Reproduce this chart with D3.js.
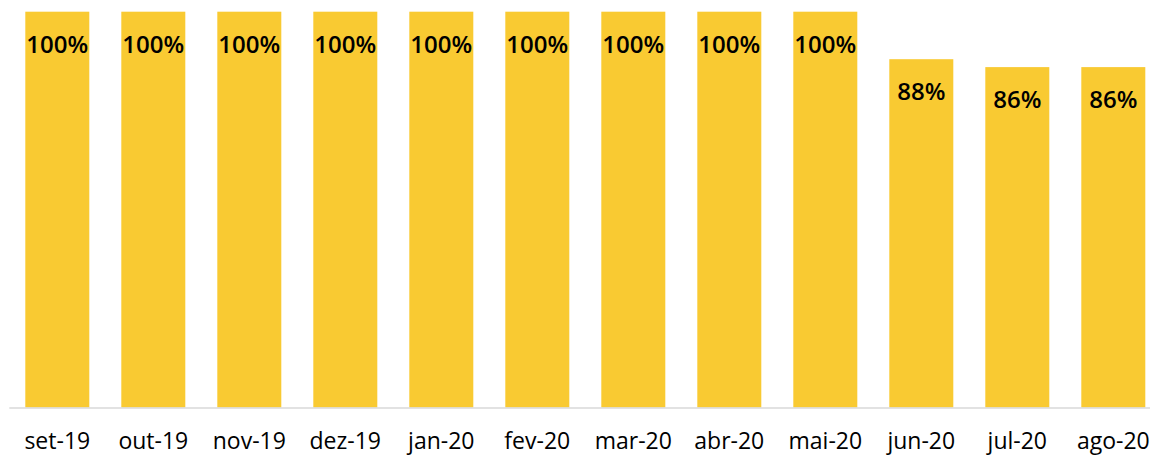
<!DOCTYPE html>
<html>
<head>
<meta charset="utf-8">
<script src="https://cdn.jsdelivr.net/npm/d3@7"></script>
<style>
  body { margin: 0; background: #fff; }
  svg { display: block; }
  .axis-label { font-family: "Open Sans", "Noto Sans", sans-serif; font-size: 23px; fill: #000; }
  .bar-label { font-family: "Open Sans", "Noto Sans", sans-serif; font-size: 24px; font-weight: 600; fill: #000; }
</style>
</head>
<body>
<div id="chart"></div>
<script>
// months on the x axis
var months = ["set-19", "out-19", "nov-19", "dez-19", "jan-20", "fev-20",
  "mar-20", "abr-20", "mai-20", "jun-20", "jul-20", "ago-20"];
// share per month, in percent
var shares = [100, 100, 100, 100, 100, 100, 100, 100, 100, 88, 86, 86];

var width = 1150, height = 455;
var baseY = 407.5, topY = 11.7;

var svg = d3.select("#chart").append("svg")
  .attr("width", width)
  .attr("height", height);

// band scale: step 96, bars 64 wide
var x = d3.scaleBand()
  .domain(months)
  .range([9.3, 9.3 + 96 * months.length])
  .paddingInner(1 / 3)
  .paddingOuter(1 / 6);

var y = d3.scaleLinear()
  .domain([0, 100])
  .range([baseY, topY]);

var data = months.map(function (m, i) { return { month: m, value: shares[i] }; });

// bars
svg.selectAll("rect.bar")
  .data(data)
  .enter()
  .append("rect")
  .attr("class", "bar")
  .attr("x", function (d) { return x(d.month); })
  .attr("y", function (d) { return y(d.value); })
  .attr("width", x.bandwidth())
  .attr("height", function (d) { return y(0) - y(d.value); })
  .attr("fill", "#F9CA32");

// baseline
svg.append("line")
  .attr("x1", x.range()[0])
  .attr("x2", x.range()[1])
  .attr("y1", baseY + 0.5)
  .attr("y2", baseY + 0.5)
  .attr("stroke", "#D9D9D9")
  .attr("stroke-width", 1.5);

// value labels inside the bar tops
svg.selectAll("text.bar-label")
  .data(data)
  .enter()
  .append("text")
  .attr("class", "bar-label")
  .attr("x", function (d) { return x(d.month) + x.bandwidth() / 2; })
  .attr("y", function (d) { return y(d.value) + 41; })
  .attr("text-anchor", "middle")
  .text(function (d) { return d.value + "%"; });

// month labels
svg.selectAll("text.axis-label")
  .data(months)
  .enter()
  .append("text")
  .attr("class", "axis-label")
  .attr("x", function (d) { return x(d) + x.bandwidth() / 2; })
  .attr("y", 448.5)
  .attr("text-anchor", "middle")
  .text(function (d) { return d; });
</script>
</body>
</html>
